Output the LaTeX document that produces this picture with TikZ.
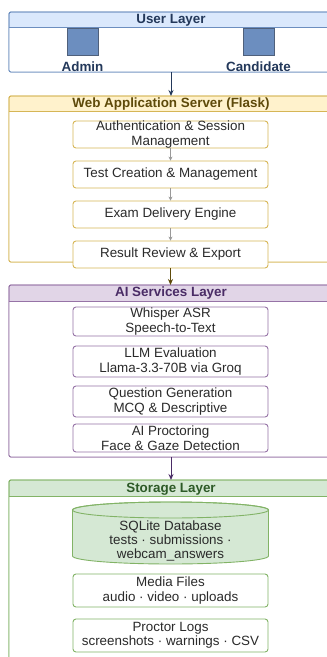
\documentclass[tikz,border=0pt]{standalone}
\usepackage{fontspec}
\setmainfont{Liberation Sans}
\usetikzlibrary{arrows.meta}
\definecolor{ubd}{HTML}{6C8EBF}\definecolor{ubf}{HTML}{DAE8FC}\definecolor{utx}{HTML}{23385A}
\definecolor{ybd}{HTML}{D6B656}\definecolor{ybf}{HTML}{FFF2CC}\definecolor{ytx}{HTML}{5E4A0A}
\definecolor{pbd}{HTML}{9673A6}\definecolor{pbf}{HTML}{E1D5E7}\definecolor{ptx}{HTML}{4A2C66}
\definecolor{gbd}{HTML}{82B366}\definecolor{gbf}{HTML}{D5E8D4}\definecolor{gtx}{HTML}{2D5A27}
\definecolor{txt}{HTML}{2A2A2A}
\tikzset{
  hdr/.style={font=\bfseries\fontsize{13.4}{14}\selectfont, inner sep=0pt, anchor=center},
  ibox/.style={draw, line width=0.9pt, rounded corners=3pt, fill=white, minimum width=195pt, align=center, inner sep=0pt, font=\fontsize{13.4}{14.5}\selectfont, text=txt},
  cont/.style={line width=0.9pt, rounded corners=2pt},
  garrow/.style={draw=gray!80, line width=0.6pt, -{Stealth[length=4pt,width=4pt]}},
  larrow/.style={line width=1pt, -{Stealth[length=6pt,width=5pt]}}
}
\begin{document}
\begin{tikzpicture}[x=1pt,y=-1pt]
\useasboundingbox (0,0) rectangle (327,657);
\clip (0,0) rectangle (327,657);
% ---------- User layer
\fill[white] (0,0) rectangle (327,657);
\draw[cont, draw=ubd, fill=ubf] (9,12) rectangle (345,72);
\fill[white] (9.45,27) rectangle (344,71.55);
\draw[draw=ubd, line width=0.9pt] (9,27) -- (345,27);
\draw[cont, draw=ubd] (9,12) rectangle (345,72);
\node[hdr, text=utx] (uh) at (171,20) {User Layer};
\node[draw=utx!80, fill=ubd, line width=0.6pt, minimum width=31pt, minimum height=27pt, inner sep=0pt] (admin) at (82.5,41.5) {};
\node[draw=utx!80, fill=ubd, line width=0.6pt, minimum width=31pt, minimum height=27pt, inner sep=0pt] (cand) at (258.5,41.5) {};
\node[hdr, text=utx] (adminl) at (82.5,66.5) {Admin};
\node[hdr, text=utx] (candl) at (258.5,66.5) {Candidate};
\coordinate (ubot) at (171,72);
% ---------- Web layer
\draw[cont, draw=ybd, fill=ybf] (9,96) rectangle (345,262);
\fill[white] (9.45,111) rectangle (344,261.55);
\draw[draw=ybd, line width=0.9pt] (9,111) -- (345,111);
\draw[cont, draw=ybd] (9,96) rectangle (345,262);
\node[hdr, text=ytx] (wh) at (171,104) {Web Application Server (Flask)};
\coordinate (wtop) at (171,96);
\node[ibox, draw=ybd, minimum height=27pt] (auth) at (170.5,134.5) {Authentication \& Session\\Management};
\node[ibox, draw=ybd, minimum height=27pt] (test) at (170.5,174.5) {Test Creation \& Management};
\node[ibox, draw=ybd, minimum height=27pt] (exam) at (170.5,214.5) {Exam Delivery Engine};
\node[ibox, draw=ybd, minimum height=27pt] (res) at (170.5,254.5) {Result Review \& Export};
\draw[garrow] (auth.south) -- (test.north);
\draw[garrow] (test.south) -- (exam.north);
\draw[garrow] (exam.south) -- (res.north);
\draw[larrow, draw=utx, fill=utx] (ubot) -- (wtop);
% ---------- AI layer
\draw[cont, draw=pbd, fill=pbf] (9,285) rectangle (345,457);
\fill[white] (9.45,301) rectangle (344,456.55);
\draw[draw=pbd, line width=0.9pt] (9,301) -- (345,301);
\draw[cont, draw=pbd] (9,285) rectangle (345,457);
\node[hdr, text=ptx] (ah) at (171,293.5) {AI Services Layer};
\coordinate (atop) at (170.5,285);
\coordinate (abot) at (171,457);
\node[ibox, draw=pbd, minimum height=29pt] (whis) at (170.5,321.5) {Whisper ASR\\Speech-to-Text};
\node[ibox, draw=pbd, minimum height=31pt] (llm) at (170.5,361.5) {LLM Evaluation\\Llama-3.3-70B via Groq};
\node[ibox, draw=pbd, minimum height=31pt] (qgen) at (170.5,401.5) {Question Generation\\MCQ \& Descriptive};
\node[ibox, draw=pbd, minimum height=28pt] (proc) at (170.5,438) {AI Proctoring\\Face \& Gaze Detection};
\draw[larrow, draw=ytx, fill=ytx] (res.south) -- (atop);
% ---------- Storage layer
\draw[cont, draw=gbd, fill=gbf] (9,480) rectangle (345,680);
\fill[white] (9.45,496) rectangle (344,679);
\draw[draw=gbd, line width=0.9pt] (9,496) -- (345,496);
\draw[cont, draw=gbd] (9,480) rectangle (345,680);
\node[hdr, text=gtx] (sh) at (171,489) {Storage Layer};
\coordinate (stop) at (171,480);
\draw[larrow, draw=ptx, fill=ptx] (abot) -- (stop);
\draw[draw=gbd, fill=gbf, line width=0.9pt] (72.5,510) -- (72.5,556) arc[start angle=180, end angle=0, x radius=98, y radius=8] -- (268.5,510) arc[start angle=0, end angle=-180, x radius=98, y radius=8] -- cycle;
\draw[draw=gbd, line width=0.9pt] (170.5,510) ellipse[x radius=98, y radius=8];
\node[align=center, inner sep=0pt, text=txt, font=\fontsize{13.4}{14}\selectfont] (db) at (170.5,541) {SQLite Database\\tests · submissions ·\\webcam\_answers};
\node[ibox, draw=gbd, minimum height=33pt] (media) at (170.5,590.5) {Media Files\\audio · video · uploads};
\node[ibox, draw=gbd, minimum height=33pt] (plog) at (170.5,635.5) {Proctor Logs\\screenshots · warnings · CSV};
\end{tikzpicture}
\end{document}
